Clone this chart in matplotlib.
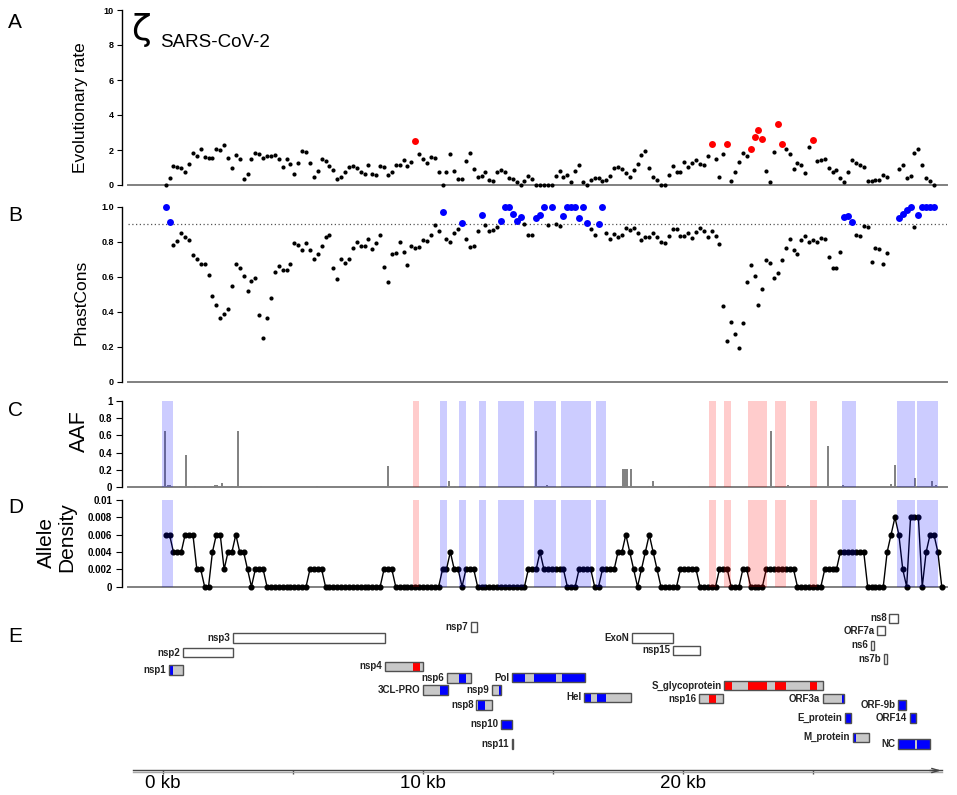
"""SARS-CoV-2 genome tracks: evolutionary rate, PhastCons, AAF, allele density, gene map."""

import numpy as np
import matplotlib
matplotlib.use("Agg")
import matplotlib.pyplot as plt
from matplotlib.patches import Rectangle

plt.rcParams["font.family"] = ["Liberation Sans", "DejaVu Sans"]

W, H = 957, 795

# ---------------------------------------------------------------- data
window_kb = 0.15  # 150 bp sliding windows

evo_rate = [
    0, 0.38, 1.08, 1.05, 0.95, 0.74, 1.18, 1.85, 1.66, 2.04,
    1.62, 1.54, 1.54, 2.08, 2.02, 2.30, 1.54, 0.99, 1.70, 1.47,
    0.32, 0.63, 1.47, 1.83, 1.79, 1.54, 1.64, 1.66, 1.70, 1.50,
    1.05, 1.47, 1.22, 0.61, 1.28, 1.94, 1.87, 1.28, 0.46, 0.80,
    1.49, 1.37, 1.10, 0.86, 0.32, 0.48, 0.76, 1.05, 1.09, 0.97,
    0.76, 0.63, 1.16, 0.65, 0.57, 1.10, 1.05, 0.55, 0.74, 1.16,
    1.12, 1.45, 1.10, 1.31, 2.50, 1.77, 1.49, 1.26, 1.62, 1.54,
    0.76, 0, 0.76, 1.79, 0.78, 0.32, 0.36, 1.39, 1.83, 0.93,
    0.46, 0.53, 0.76, 0.27, 0.21, 0.74, 0.88, 0.74, 0.38, 0.34,
    0.19, 0, 0.23, 0.53, 0.34, 0, 0, 0, 0, 0,
    0.51, 0.82, 0.48, 0.57, 0.17, 0.80, 1.16, 0.19, 0, 0.27,
    0.38, 0.38, 0.21, 0.27, 0.53, 0.95, 1.05, 0.91, 0.67, 0.46,
    0.84, 1.20, 1.70, 1.94, 0.97, 0.48, 0.27, 0, 0, 0.57,
    1.09, 0.74, 0.76, 1.31, 1.01, 1.26, 1.45, 1.20, 1.16, 1.68,
    2.34, 1.49, 0.48, 1.75, 2.34, 0.21, 0.74, 1.31, 1.85, 1.68,
    2.04, 2.72, 3.12, 2.63, 0.78, 0.19, 1.90, 3.49, 2.34, 2.08,
    1.79, 0.91, 1.28, 1.16, 0.69, 2.19, 2.55, 1.35, 1.43, 1.47,
    0.97, 0.72, 0.88, 0.40, 0.19, 0.74, 1.43, 1.24, 1.16, 1.03,
    0.21, 0.25, 0.27, 0.27, 0.59, 0.48, np.nan, np.nan, 0.90, 1.12,
    0.38, 0.51, 1.81, 2.08, 1.12, 0.42, 0.21, 0,
]
evo_fast = [65, 141, 145, 151, 152, 153, 154, 158, 159, 167]  # window numbers, red

phastcons = [
    0.996, 0.912, 0.779, 0.806, 0.848, 0.827, 0.808, 0.722, 0.703, 0.672,
    0.674, 0.608, 0.488, 0.438, 0.366, 0.389, 0.413, 0.549, 0.674, 0.648,
    0.604, 0.520, 0.577, 0.590, 0.379, 0.248, 0.362, 0.480, 0.625, 0.659,
    0.640, 0.638, 0.670, 0.790, 0.781, 0.752, 0.790, 0.750, 0.701, 0.731,
    0.777, 0.829, 0.836, 0.651, 0.589, 0.699, 0.678, 0.703, 0.766, 0.800,
    0.775, 0.777, 0.813, 0.758, 0.790, 0.838, 0.655, 0.570, 0.728, 0.737,
    0.796, 0.739, 0.665, 0.775, 0.766, 0.770, 0.808, 0.806, 0.838, 0.897,
    0.863, 0.968, 0.815, 0.798, 0.851, 0.872, 0.907, 0.815, 0.770, 0.777,
    0.863, 0.950, 0.897, 0.863, 0.869, 0.884, 0.918, 1.000, 1.000, 0.956,
    0.916, 0.943, 0.900, 0.836, 0.838, 0.933, 0.954, 1.000, 0.897, 1.000,
    0.900, 0.891, 0.946, 1.000, 1.000, 1.000, 0.937, 1.000, 0.909, 0.874,
    0.836, 0.900, 0.998, 0.850, 0.815, 0.846, 0.829, 0.836, 0.878, 0.869,
    0.876, 0.851, 0.808, 0.827, 0.829, 0.851, 0.827, 0.800, 0.794, 0.832,
    0.874, 0.872, 0.832, 0.832, 0.848, 0.823, 0.853, 0.880, 0.861, 0.829,
    0.861, 0.834, 0.789, 0.430, 0.230, 0.341, 0.270, 0.190, 0.335, 0.570,
    0.667, 0.606, 0.440, 0.531, 0.693, 0.680, 0.594, 0.619, 0.697, 0.764,
    0.817, 0.750, 0.731, 0.808, 0.830, 0.796, 0.811, 0.798, 0.821, 0.815,
    0.712, 0.651, 0.648, 0.741, 0.939, 0.949, 0.910, 0.838, 0.830, 0.888,
    0.884, 0.686, 0.764, 0.760, 0.670, 0.733, np.nan, np.nan, 0.933, 0.960,
    0.981, 1.000, 0.884, 0.952, 1.000, 1.000, 1.000, 1.000,
]
phast_conserved = [1, 2, 72, 77, 82, 87, 88, 89, 90, 91, 92, 96, 97, 98, 100,
                   103, 104, 105, 106, 107, 108, 109, 112, 113, 175, 176, 177,
                   189, 190, 191, 192, 194, 195, 196, 197, 198]

aaf_kb = [0.085, 0.20, 0.29, 0.67, 0.89, 1.01, 1.25, 2.02, 2.11, 2.28, 2.69,
          2.89, 3.03, 3.78, 5.93, 8.69, 11.02, 11.25, 11.85, 14.35, 14.78,
          15.29, 16.34, 17.70, 17.78, 17.85, 18.03, 18.72, 18.85, 18.95,
          20.25, 21.60, 22.44, 23.42, 24.07, 25.60, 26.18, 26.25, 26.76,
          28.00, 28.18, 28.37, 28.93, 29.58, 29.75]
aaf_val = [0.655, 0.02, 0.02, 0.01, 0.37, 0.015, 0.01, 0.02, 0.02, 0.05, 0.01,
           0.65, 0.015, 0.01, 0.01, 0.25, 0.07, 0.01, 0.015, 0.65, 0.02,
           0.01, 0.01, 0.21, 0.21, 0.21, 0.21, 0.01, 0.07, 0.01,
           0.01, 0.01, 0.01, 0.65, 0.02, 0.48, 0.02, 0.01, 0.01,
           0.03, 0.26, 0.01, 0.10, 0.07, 0.02]

density_milli = [
    6, 6, 4, 4, 4, 6, 6, 6, 2, 2,
    0, 0, 4, 6, 6, 2, 4, 4, 6, 4,
    4, 2, 0, 2, 2, 2, 0, 0, 0, 0,
    0, 0, 0, 0, 0, 0, 0, 2, 2, 2,
    2, 0, 0, 0, 0, 0, 0, 0, 0, 0,
    0, 0, 0, 0, 0, 0, 2, 2, 2, 0,
    0, 0, 0, 0, 0, 0, 0, 0, 0, 0,
    0, 2, 2, 4, 2, 2, 0, 2, 2, 2,
    0, 0, 0, 0, 0, 0, 0, 0, 0, 0,
    0, 0, 0, 2, 2, 2, 4, 2, 2, 2,
    2, 2, 2, 0, 0, 0, 2, 2, 2, 2,
    0, 0, 2, 2, 2, 2, 4, 4, 6, 4,
    2, 0, 2, 4, 6, 4, 2, 0, 0, 0,
    0, 0, 2, 2, 2, 2, 2, 0, 0, 0,
    0, 0, 2, 2, 2, 0, 0, 0, 2, 2,
    0, 0, 0, 0, 2, 2, 2, 2, 2, 2,
    2, 2, 0, 0, 0, 0, 0, 0, 0, 2,
    2, 2, 2, 4, 4, 4, 4, 4, 4, 4,
    0, 0, 0, 0, 0, 4, 6, 8, 6, 2,
    0, 8, 8, 8, 0, 4, 6, 6, 4, 0,
]

blue_bands = [(-0.02, 0.42), (10.68, 10.94), (11.40, 11.66), (12.17, 12.43),
              (12.90, 13.90), (14.29, 15.12), (15.34, 16.47), (16.67, 17.07),
              (26.13, 26.67), (28.24, 28.93), (29.02, 29.82)]
red_bands = [(9.62, 9.88), (21.02, 21.28), (21.60, 21.85), (22.51, 23.25),
             (23.56, 23.97), (24.89, 25.16)]

gene_names = ["nsp1", "nsp2", "nsp3", "nsp4", "3CL-PRO", "nsp6", "nsp7", "nsp8",
              "nsp9", "nsp10", "nsp11", "Pol", "Hel", "ExoN", "nsp15", "nsp16",
              "S_glycoprotein", "ORF3a", "E_protein", "M_protein", "ns6", "ORF7a",
              "ns7b", "ns8", "ORF-9b", "ORF14", "NC"]
gene_start = [0.25, 0.79, 2.70, 8.56, 10.03, 10.95, 11.85, 12.07, 12.67, 13.02,
              13.44, 13.44, 16.22, 18.06, 19.62, 20.65, 21.60, 25.39, 26.25,
              26.55, 27.25, 27.48, 27.74, 27.95, 28.28, 28.74, 28.28]
gene_end = [0.80, 2.70, 8.56, 10.03, 10.97, 11.85, 12.08, 12.68, 13.02, 13.45,
            13.49, 16.24, 18.03, 19.62, 20.66, 21.57, 25.39, 26.22, 26.48,
            27.18, 27.37, 27.79, 27.88, 28.28, 28.58, 28.97, 29.53]
gene_fill = ["gray", "white", "white", "gray", "gray", "gray", "white", "gray",
             "gray", "gray", "white", "gray", "gray", "white", "white", "gray",
             "gray", "gray", "gray", "gray", "white", "white", "white", "white",
             "gray", "gray", "gray"]
# track row of each gene (pixel row of the map)
gene_row = [670, 652.5, 638, 666.3, 690, 678, 627, 705, 690, 724.3, 744, 677.7,
            697.5, 638, 650.3, 698.7, 685.7, 698.7, 718, 737.3, 645.3, 630.7,
            658.8, 618.3, 705, 718, 744]

blue_segments = [("nsp1", 0.25, 0.42), ("3CL-PRO", 10.68, 10.97), ("nsp6", 11.40, 11.67),
                 ("nsp8", 12.12, 12.40), ("nsp9", 12.93, 13.02), ("nsp10", 13.02, 13.45),
                 ("Pol", 13.49, 13.94), ("Pol", 14.30, 15.13), ("Pol", 15.35, 16.24),
                 ("Hel", 16.22, 16.48), ("Hel", 16.70, 17.06), ("ORF3a", 26.13, 26.22),
                 ("E_protein", 26.25, 26.48), ("M_protein", 26.55, 26.66),
                 ("ORF-9b", 28.28, 28.58), ("ORF14", 28.74, 28.97),
                 ("NC", 28.28, 28.94), ("NC", 29.01, 29.53)]
red_segments = [("nsp4", 9.62, 9.90), ("nsp16", 21.00, 21.29),
                ("S_glycoprotein", 21.60, 21.89), ("S_glycoprotein", 22.50, 23.25),
                ("S_glycoprotein", 23.57, 23.98), ("S_glycoprotein", 24.90, 25.17)]

kb_ticks = [0, 10, 20]
kb_labels = ["0 kb", "10 kb", "20 kb"]

# ---------------------------------------------------------------- layout
XL = (-1.558, 30.16)
SPINE_START = -1.33
FILL = {"gray": "#c8c8c8", "white": "white"}


def px(x, y):
    return x / W, 1 - y / H


def panel(top, bottom):
    return fig.add_axes([122 / W, 1 - bottom / H, 824.7 / W, (bottom - top) / H])


def style(ax, ticks, labels, size, tick_len=3.3):
    ax.set_xlim(XL)
    ax.set_xticks([])
    ax.set_yticks(ticks)
    ax.set_yticklabels(labels, fontsize=size, fontweight="bold")
    for s in ("top", "right"):
        ax.spines[s].set_visible(False)
    ax.spines["left"].set_linewidth(1.0)
    ax.spines["bottom"].set_color("#808080")
    ax.spines["bottom"].set_linewidth(1.4)
    ax.spines["bottom"].set_bounds(SPINE_START, XL[1])
    ax.tick_params(axis="y", length=tick_len, width=0.8, pad=2.5)
    ax.patch.set_alpha(0)


fig = plt.figure(figsize=(W / 100, H / 100), dpi=100)

win_x = 0.12 + window_kb * np.arange(len(evo_rate))
evo = np.array(evo_rate)
pc = np.array(phastcons)
fast = np.array(evo_fast) - 1
cons = np.array(phast_conserved) - 1

# A: evolutionary rate
axA = panel(10, 185)
slow = np.setdiff1d(np.arange(len(evo)), fast)
axA.scatter(win_x[slow], evo[slow], s=9, color="black", lw=0, zorder=3, clip_on=False)
axA.scatter(win_x[fast], evo[fast], s=25, color="#ff0000", lw=0, zorder=4, clip_on=False)
axA.set_ylim(0, 10)
style(axA, [0, 2, 4, 6, 8, 10], ["0", "2", "4", "6", "8", "10"], 6.5)

# B: PhastCons
axB = panel(206.7, 381.7)
rest = np.setdiff1d(np.arange(len(pc)), cons)
axB.axhline(0.9, xmin=0.007, color="#555555", lw=0.9, ls=(0, (1, 2)), zorder=1)
axB.scatter(win_x[rest], pc[rest], s=9, color="black", lw=0, zorder=3, clip_on=False)
axB.scatter(win_x[cons], pc[cons], s=25, color="#0000ff", lw=0, zorder=4, clip_on=False)
axB.set_ylim(0, 1)
style(axB, [0, 0.2, 0.4, 0.6, 0.8, 1.0], ["0", "0.2", "0.4", "0.6", "0.8", "1.0"], 6.5)


def bands(ax):
    for s, e in blue_bands:
        ax.axvspan(s, e, color="#0000ff", alpha=0.2, lw=0, zorder=5)
    for s, e in red_bands:
        ax.axvspan(s, e, color="#ff0000", alpha=0.2, lw=0, zorder=5)


# C: AAF
axC = panel(401, 487)
axC.vlines(aaf_kb, 0, aaf_val, color="#808080", lw=1.4, zorder=2)
bands(axC)
axC.set_ylim(0, 1)
style(axC, [0, 0.2, 0.4, 0.6, 0.8, 1], ["0", "0.2", "0.4", "0.6", "0.8", "1"], 7, 4.5)

# D: allele density
axD = panel(500, 586.7)
dens_x = 0.12 + window_kb * np.arange(len(density_milli))
dens = np.array(density_milli) / 1000
axD.plot(dens_x, dens, color="black", lw=1.0, marker="o", ms=3.4, zorder=3, clip_on=False)
bands(axD)
axD.set_ylim(0, 0.01)
style(axD, [0, 0.002, 0.004, 0.006, 0.008, 0.01],
      ["0", "0.002", "0.004", "0.006", "0.008", "0.01"], 7, 4.5)

# E: gene map with kb axis
axE = fig.add_axes([122 / W, 0, 824.7 / W, 195 / H])
axE.set_xlim(XL)
axE.set_ylim(795, 600)
axE.patch.set_alpha(0)
for s in ("top", "right", "left"):
    axE.spines[s].set_visible(False)
axE.spines["bottom"].set_position(("data", 770))
axE.spines["bottom"].set_bounds(-1.13, 29.97)
axE.spines["bottom"].set_color("#444444")
axE.spines["bottom"].set_linewidth(1.0)
axE.plot([-1.13, 29.97], [772, 772], color="#a8a8a8", lw=1.0, clip_on=False)
axE.annotate("", xy=(30.05, 770.5), xytext=(29.4, 770.5),
             arrowprops=dict(arrowstyle="->,head_length=0.5,head_width=0.15",
                             color="#444444", lw=1.0))
axE.set_yticks([])
axE.set_xticks(kb_ticks)
axE.set_xticklabels(kb_labels)
axE.set_xticks([5, 15, 25], minor=True)
axE.tick_params(axis="x", which="both", direction="out", length=3, width=1.0,
                color="#444444", pad=0.5, labelsize=13.5)

row_of = dict(zip(gene_names, gene_row))
box_h = 9.5
for name, s, e, fill, y in zip(gene_names, gene_start, gene_end, gene_fill, gene_row):
    axE.add_patch(Rectangle((s, y - box_h / 2), e - s, box_h, facecolor=FILL[fill],
                            edgecolor="none", zorder=2))
    axE.text(s - 0.1, y, name, ha="right", va="center", fontsize=7,
             fontweight="bold", color="#222222")
for segs, col in ((blue_segments, "#0000ff"), (red_segments, "#ff0000")):
    for name, s, e in segs:
        y = row_of[name]
        axE.add_patch(Rectangle((s, y - box_h / 2), e - s, box_h, facecolor=col,
                                edgecolor="none", zorder=3))
for s, e, y in zip(gene_start, gene_end, gene_row):
    axE.add_patch(Rectangle((s, y - box_h / 2), e - s, box_h, fill=False,
                            edgecolor="#505050", lw=1.0, zorder=4))

# titles, axis labels, panel letters
fig.text(*px(131, 40), "\u03b6", fontsize=26, family="DejaVu Sans", va="baseline")
fig.text(*px(160, 47), "SARS-CoV-2", fontsize=13.5, va="baseline")
fig.text(*px(81, 107.5), "Evolutionary rate", fontsize=12.5, rotation=90,
         ha="center", va="center")
fig.text(*px(81, 302.5), "PhastCons", fontsize=12.5, rotation=90,
         ha="center", va="center")
fig.text(*px(79, 431.5), "AAF", fontsize=15.5, rotation=90, ha="center", va="center")
fig.text(*px(46, 543), "Allele", fontsize=15, rotation=90, ha="center", va="center")
fig.text(*px(67, 537.5), "Density", fontsize=15, rotation=90, ha="center", va="center")
for letter, base in zip("ABCDE", (28, 221, 416, 513, 642)):
    fig.text(*px(8, base), letter, fontsize=15, va="baseline")

fig.savefig("out.png", dpi=100)
